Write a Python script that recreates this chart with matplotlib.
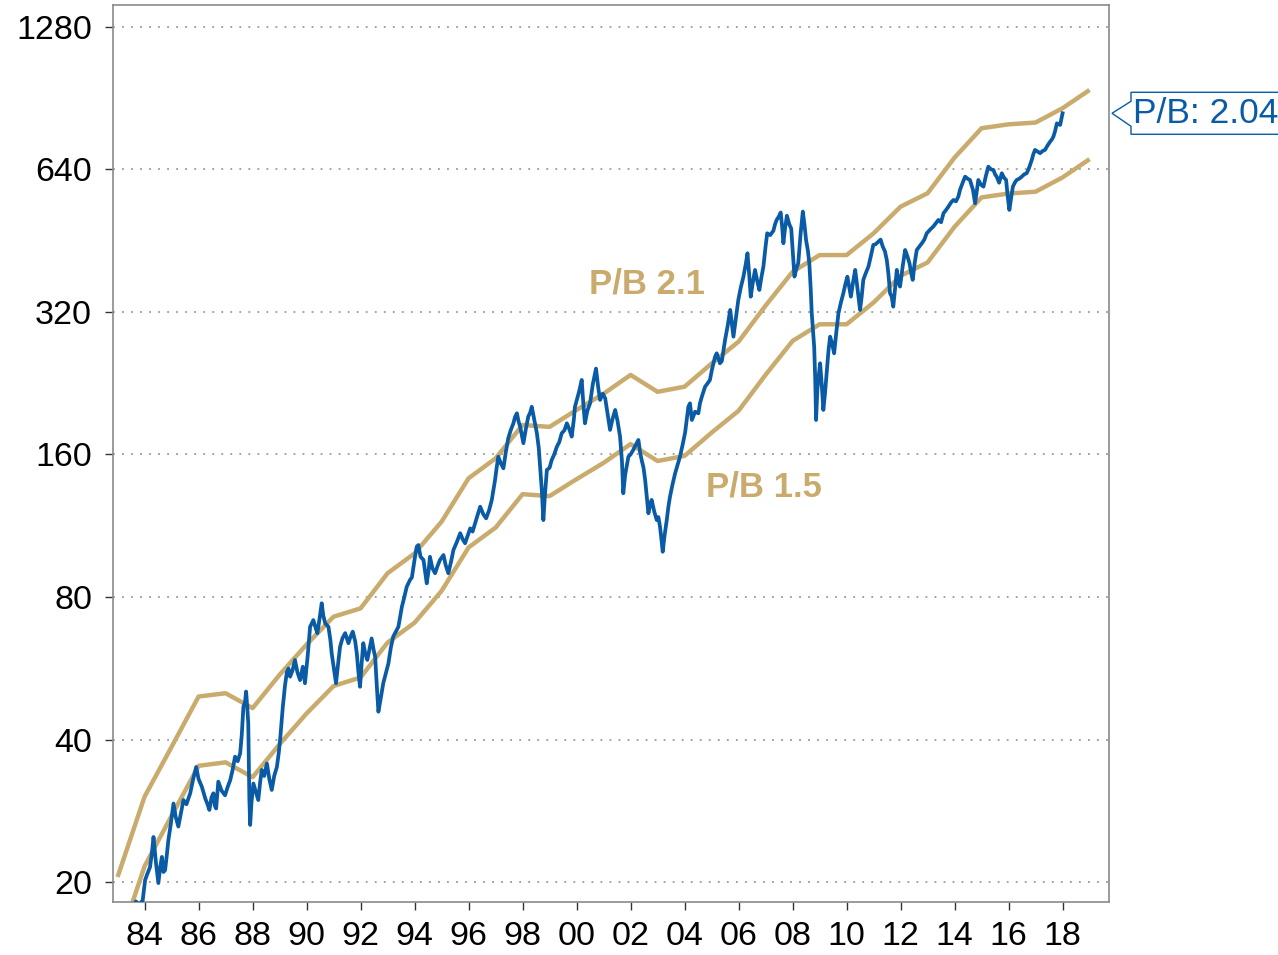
import matplotlib
matplotlib.use('Agg')
import matplotlib.pyplot as plt
from matplotlib.patches import Polygon
from matplotlib.transforms import IdentityTransform
from matplotlib.ticker import NullLocator

plt.rcParams['font.family'] = ['Liberation Sans', 'DejaVu Sans']

# P/B bands, year-end values
band_years = list(range(1983, 2020))
pb_hi = [20.5, 30.3, 38.6, 49.3, 50.1, 46.6, 54.8, 63.5, 72.7, 75.7,
         89.8, 98.9, 115.4, 142.5, 157.0, 184.7, 183.0, 198.7, 215.0, 235.6,
         217.0, 222.5, 249.0, 277.0, 330.0, 389.0, 422.0, 422.0, 469.0, 534.0,
         570.0, 678.0, 782.0, 797.0, 804.0, 862.0, 942.0]
pb_lo = [14.6, 21.6, 27.6, 35.2, 35.8, 33.3, 39.1, 45.4, 51.9, 54.1,
         64.1, 70.6, 82.4, 101.8, 112.1, 131.9, 130.7, 141.9, 153.6, 168.3,
         155.0, 158.9, 177.9, 197.9, 235.7, 277.9, 301.4, 301.4, 335.0, 381.4,
         407.1, 484.3, 558.6, 569.3, 574.3, 615.7, 672.9]

# index level
idx_years = [
    1983.55, 1983.68, 1983.8, 1983.93, 1984.02, 1984.1, 1984.2, 1984.27, 1984.33, 1984.42,
    1984.51, 1984.58, 1984.64, 1984.7, 1984.76, 1984.83, 1984.88, 1984.97, 1985.07, 1985.15,
    1985.25, 1985.35, 1985.44, 1985.55, 1985.69, 1985.8, 1985.91, 1986.0, 1986.12, 1986.25,
    1986.33, 1986.4, 1986.48, 1986.55, 1986.6, 1986.65, 1986.73, 1986.85, 1986.98, 1987.08,
    1987.17, 1987.26, 1987.35, 1987.45, 1987.54, 1987.6, 1987.66, 1987.72, 1987.76, 1987.8,
    1987.84, 1987.88, 1987.91, 1987.96, 1988.03, 1988.12, 1988.21, 1988.28, 1988.34, 1988.43,
    1988.53, 1988.62, 1988.71, 1988.8, 1988.9, 1988.97, 1989.02, 1989.12, 1989.2, 1989.27,
    1989.33, 1989.39, 1989.48, 1989.57, 1989.66, 1989.76, 1989.86, 1989.94, 1990.04, 1990.13,
    1990.25, 1990.33, 1990.4, 1990.48, 1990.56, 1990.62, 1990.69, 1990.81, 1990.88, 1990.93,
    1991.02, 1991.09, 1991.17, 1991.24, 1991.33, 1991.43, 1991.55, 1991.63, 1991.71, 1991.8,
    1991.86, 1991.92, 1991.98, 1992.04, 1992.1, 1992.18, 1992.25, 1992.33, 1992.41, 1992.48,
    1992.54, 1992.6, 1992.66, 1992.75, 1992.84, 1992.93, 1993.03, 1993.12, 1993.21, 1993.3,
    1993.4, 1993.53, 1993.62, 1993.71, 1993.83, 1993.9, 1994.0, 1994.08, 1994.14, 1994.22,
    1994.33, 1994.45, 1994.52, 1994.57, 1994.66, 1994.76, 1994.85, 1994.94, 1995.07, 1995.15,
    1995.25, 1995.35, 1995.44, 1995.55, 1995.69, 1995.78, 1995.87, 1996.06, 1996.15, 1996.24,
    1996.33, 1996.43, 1996.55, 1996.65, 1996.76, 1996.86, 1996.98, 1997.04, 1997.1, 1997.2,
    1997.29, 1997.38, 1997.47, 1997.56, 1997.66, 1997.72, 1997.79, 1997.85, 1997.91, 1998.03,
    1998.12, 1998.21, 1998.28, 1998.34, 1998.43, 1998.53, 1998.6, 1998.65, 1998.71, 1998.77,
    1998.83, 1998.9, 1999.0, 1999.08, 1999.17, 1999.27, 1999.36, 1999.45, 1999.55, 1999.64,
    1999.73, 1999.82, 1999.9, 1999.94, 2000.01, 2000.1, 2000.19, 2000.25, 2000.31, 2000.4,
    2000.5, 2000.6, 2000.72, 2000.8, 2000.87, 2000.97, 2001.06, 2001.15, 2001.24, 2001.33,
    2001.43, 2001.52, 2001.61, 2001.68, 2001.73, 2001.8, 2001.92, 2002.0, 2002.1, 2002.2,
    2002.29, 2002.35, 2002.41, 2002.48, 2002.54, 2002.6, 2002.66, 2002.72, 2002.78, 2002.88,
    2002.97, 2003.03, 2003.09, 2003.15, 2003.19, 2003.26, 2003.34, 2003.4, 2003.46, 2003.55,
    2003.65, 2003.74, 2003.83, 2003.93, 2004.02, 2004.14, 2004.2, 2004.27, 2004.39, 2004.51,
    2004.57, 2004.64, 2004.76, 2004.85, 2004.94, 2005.01, 2005.13, 2005.19, 2005.31, 2005.38,
    2005.5, 2005.6, 2005.69, 2005.81, 2005.9, 2005.99, 2006.08, 2006.18, 2006.27, 2006.33,
    2006.4, 2006.45, 2006.53, 2006.61, 2006.7, 2006.77, 2006.85, 2006.92, 2007.0, 2007.06,
    2007.17, 2007.29, 2007.35, 2007.41, 2007.5, 2007.56, 2007.62, 2007.66, 2007.72, 2007.79,
    2007.88, 2007.95, 2008.07, 2008.14, 2008.21, 2008.3, 2008.38, 2008.44, 2008.5, 2008.57,
    2008.62, 2008.67, 2008.71, 2008.76, 2008.8, 2008.84, 2008.87, 2008.92, 2008.97, 2009.02,
    2009.08, 2009.14, 2009.2, 2009.27, 2009.33, 2009.39, 2009.46, 2009.54, 2009.62, 2009.7,
    2009.79, 2009.88, 2009.95, 2010.03, 2010.1, 2010.16, 2010.24, 2010.32, 2010.4, 2010.5,
    2010.56, 2010.62, 2010.7, 2010.81, 2010.9, 2010.99, 2011.08, 2011.18, 2011.26, 2011.34,
    2011.42, 2011.49, 2011.55, 2011.61, 2011.67, 2011.73, 2011.8, 2011.86, 2011.92, 2011.98,
    2012.08, 2012.17, 2012.25, 2012.33, 2012.4, 2012.45, 2012.52, 2012.6, 2012.7, 2012.79,
    2012.88, 2012.97, 2013.1, 2013.21, 2013.3, 2013.4, 2013.5, 2013.59, 2013.68, 2013.77,
    2013.87, 2013.96, 2014.05, 2014.14, 2014.2, 2014.3, 2014.39, 2014.48, 2014.57, 2014.68,
    2014.76, 2014.82, 2014.88, 2014.97, 2015.07, 2015.16, 2015.25, 2015.35, 2015.44, 2015.5,
    2015.56, 2015.65, 2015.75, 2015.83, 2015.91, 2015.97, 2016.03, 2016.1, 2016.16, 2016.23,
    2016.3, 2016.4, 2016.49, 2016.58, 2016.67, 2016.76, 2016.86, 2016.92, 2016.98, 2017.08,
    2017.17, 2017.26, 2017.35, 2017.45, 2017.54, 2017.6, 2017.66, 2017.72, 2017.79, 2017.85,
    2017.91, 2017.96, 2018.0]
idx_vals = [
    17.6, 18.2, 17.9, 18.3, 20.2, 20.8, 21.5, 23.0, 24.9, 22.0,
    19.9, 21.5, 22.6, 21.0, 21.2, 23.0, 24.5, 26.5, 29.3, 27.5,
    26.2, 28.0, 29.8, 29.2, 30.8, 33.0, 35.0, 33.0, 31.8, 30.0,
    29.2, 28.4, 30.2, 30.8, 29.0, 28.6, 32.6, 31.2, 30.5, 31.8,
    32.8, 34.5, 36.8, 36.0, 37.4, 41.0, 46.9, 48.0, 50.5, 47.0,
    43.3, 30.0, 26.4, 29.5, 32.3, 31.0, 29.8, 32.5, 34.5, 33.5,
    35.6, 33.0, 31.3, 33.5, 35.0, 37.5, 40.0, 46.9, 52.0, 55.5,
    56.5, 54.3, 56.0, 58.9, 55.5, 53.4, 57.0, 52.6, 60.0, 69.2,
    71.5, 69.0, 67.1, 72.0, 77.6, 73.0, 70.4, 69.2, 65.0, 60.8,
    56.0, 52.6, 58.0, 62.8, 65.5, 67.1, 63.9, 66.0, 67.6, 64.5,
    60.8, 55.5, 51.7, 58.0, 63.9, 60.5, 58.9, 62.0, 65.4, 62.0,
    59.8, 52.0, 45.8, 49.0, 52.6, 55.0, 57.9, 62.5, 66.0, 67.5,
    69.2, 76.3, 80.0, 84.1, 86.9, 88.0, 96.0, 102.2, 103.0, 97.3,
    95.8, 85.5, 91.0, 97.3, 92.0, 89.8, 93.0, 95.8, 98.1, 93.5,
    89.8, 95.0, 100.6, 104.0, 109.1, 106.0, 103.9, 111.7, 110.0, 114.5,
    119.0, 124.1, 119.5, 117.3, 122.0, 128.3, 141.3, 150.0, 158.3, 153.0,
    149.6, 162.0, 173.2, 180.0, 186.2, 192.0, 195.5, 188.0, 183.2, 169.0,
    181.0, 192.3, 196.0, 201.8, 190.0, 177.4, 165.0, 150.8, 135.0, 116.3,
    132.0, 148.4, 150.0, 155.8, 160.0, 166.2, 170.0, 177.4, 180.0, 186.2,
    181.0, 174.5, 190.0, 201.8, 208.6, 218.0, 229.9, 205.0, 186.2, 198.0,
    205.2, 225.0, 243.0, 222.0, 208.6, 215.0, 210.3, 195.0, 180.3, 190.0,
    198.7, 188.0, 174.5, 155.0, 132.5, 145.0, 158.3, 160.0, 163.6, 168.0,
    171.7, 162.0, 155.8, 150.0, 141.3, 130.0, 120.2, 125.0, 128.3, 121.0,
    116.3, 118.0, 112.6, 105.0, 99.7, 108.0, 116.3, 124.0, 130.3, 138.0,
    146.0, 152.0, 158.3, 168.0, 178.0, 201.8, 205.2, 189.2, 197.0, 195.5,
    205.2, 212.0, 222.5, 226.0, 229.9, 241.3, 257.4, 261.7, 249.3, 252.0,
    279.3, 300.0, 323.2, 283.8, 310.0, 339.2, 360.0, 380.0, 405.0, 425.7,
    380.0, 344.7, 370.0, 392.6, 370.0, 356.1, 380.0, 399.0, 440.0, 469.2,
    465.0, 475.0, 490.0, 500.6, 510.0, 519.0, 480.0, 447.0, 480.0, 511.0,
    490.0, 480.0, 380.0, 395.0, 405.6, 470.0, 521.3, 490.0, 454.2, 430.0,
    405.6, 360.0, 318.0, 290.0, 270.4, 230.0, 189.2, 220.0, 235.0, 249.3,
    225.0, 198.7, 215.0, 241.3, 265.0, 283.8, 275.0, 261.7, 290.0, 318.0,
    335.0, 350.4, 365.0, 380.0, 360.0, 344.7, 370.0, 392.6, 360.0, 323.2,
    345.0, 374.0, 385.0, 399.0, 420.0, 443.3, 445.0, 450.4, 455.0, 439.7,
    430.0, 412.0, 385.0, 350.4, 345.0, 328.4, 360.0, 392.6, 370.0, 362.0,
    400.0, 432.6, 420.0, 405.6, 385.0, 374.0, 405.0, 432.6, 440.0, 447.0,
    455.0, 469.2, 478.0, 484.6, 492.0, 500.6, 495.0, 517.2, 525.0, 534.0,
    545.0, 551.8, 548.0, 560.8, 579.0, 600.0, 618.0, 612.0, 608.0, 580.0,
    543.0, 575.0, 608.0, 595.0, 588.6, 620.0, 648.9, 640.0, 638.4, 625.0,
    618.0, 600.0, 628.2, 615.0, 608.0, 560.0, 525.6, 560.0, 588.6, 600.0,
    608.0, 612.0, 618.0, 625.0, 628.2, 645.0, 670.4, 690.0, 703.8, 698.0,
    692.6, 700.0, 703.8, 720.0, 732.6, 740.0, 750.6, 770.0, 801.0, 798.0,
    794.6, 820.0, 841.0]

latest_pb = 2.04
y_ticks = [20, 40, 80, 160, 320, 640, 1280]
x_ticks = list(range(1984, 2019, 2))
x_labels = ['%02d' % (y % 100) for y in x_ticks]

gold = '#C9AB6E'
blue = '#0A5BA6'

W, H = 1278, 955
fig = plt.figure(figsize=(W / 100, H / 100), dpi=100)
ax = fig.add_axes([113 / W, 1 - 902 / H, (1109 - 113) / W, (902 - 5) / H])

ax.plot(band_years, pb_hi, color=gold, lw=3.2, solid_capstyle='butt', zorder=2)
ax.plot(band_years, pb_lo, color=gold, lw=3.2, solid_capstyle='butt', zorder=2)
ax.plot(idx_years, idx_vals, color=blue, lw=2.7, zorder=3)

ax.set_yscale('log', base=2)
ax.set_xlim(1982.83, 2019.72)
ax.set_ylim(18.15, 1424)
ax.set_yticks(y_ticks)
ax.set_yticklabels([str(v) for v in y_ticks])
ax.yaxis.set_minor_locator(NullLocator())
ax.set_xticks(x_ticks)
ax.set_xticklabels(x_labels)

ax.yaxis.grid(True, linestyle=(0, (1, 4)), color='#9a9a9a', linewidth=1.3)
ax.xaxis.grid(False)
ax.set_axisbelow(True)

for s in ax.spines.values():
    s.set_color('#8a8a8a')
    s.set_linewidth(1.2)
ax.tick_params(axis='both', direction='out', length=6, width=1, color='#333333',
               labelsize=24.5, labelcolor='black')
ax.tick_params(axis='y', pad=9)
ax.tick_params(axis='x', pad=8)

ax.text(2002.6, 366, 'P/B 2.1', color=gold, fontsize=25, fontweight='bold',
        ha='center', va='center')
ax.text(2006.94, 136.6, 'P/B 1.5', color=gold, fontsize=25, fontweight='bold',
        ha='center', va='center')

# callout with the latest P/B, pointing at the last index value
fig.canvas.draw()
yc = ax.transData.transform((idx_years[-1], idx_vals[-1]))[1]
tip_x = ax.transAxes.transform((1, 0))[0] + 3
box_x = tip_x + 19
pts = [(box_x, yc + 21), (box_x, yc + 12), (tip_x, yc), (box_x, yc - 13),
       (box_x, yc - 21), (W + 20, yc - 21), (W + 20, yc + 21)]
fig.add_artist(Polygon(pts, closed=True, transform=IdentityTransform(),
                       facecolor='white', edgecolor=blue, linewidth=1.0))
fig.text(box_x + 2, yc, 'P/B: %.2f' % latest_pb, transform=IdentityTransform(),
         color=blue, fontsize=25.5, ha='left', va='center')

fig.savefig('out.png', dpi=100)
